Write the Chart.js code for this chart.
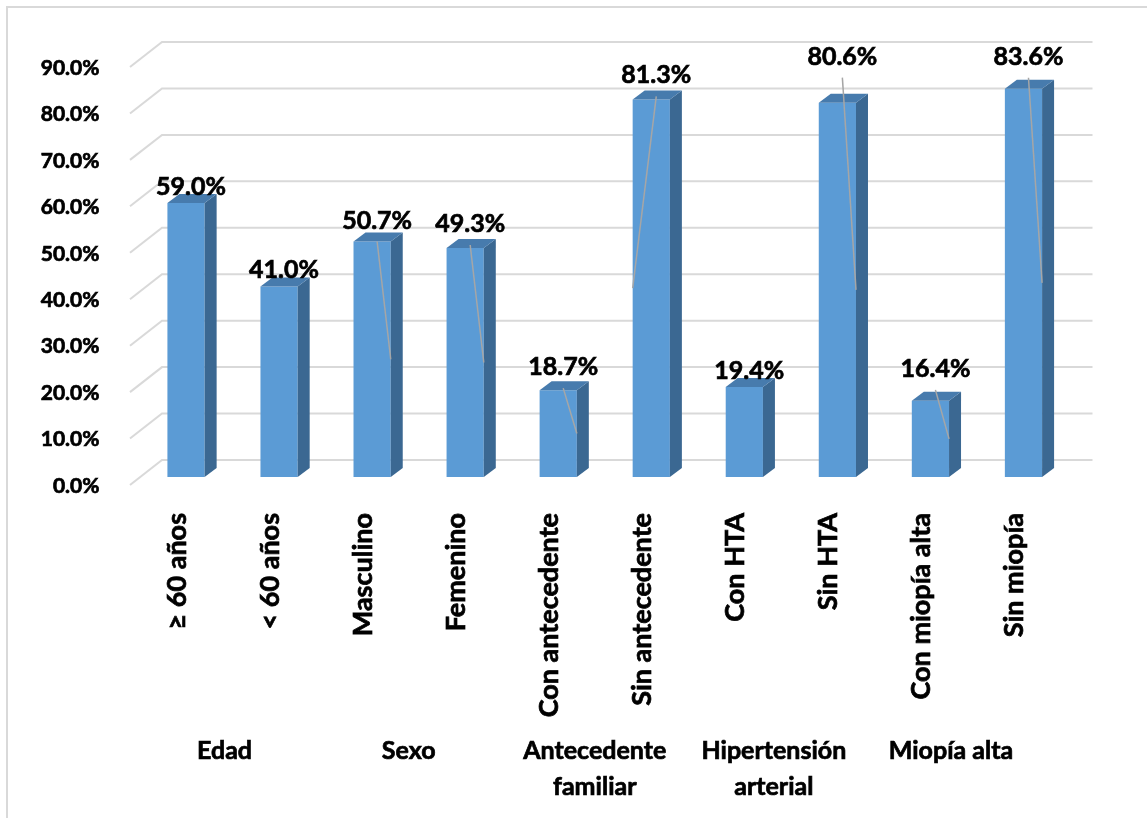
<!DOCTYPE html>
<html>
<head>
<meta charset="utf-8">
<title>Factores</title>
<script src="https://cdn.jsdelivr.net/npm/chart.js@4.4.1/dist/chart.umd.min.js"></script>
<style>
  html, body { margin: 0; padding: 0; background: #fff; }
  #wrap { width: 1147px; height: 818px; position: relative; }
</style>
</head>
<body>
<div id="wrap"><canvas id="dataChart" width="1147" height="818"></canvas></div>
<script>
// Datos del gráfico
const categorias = ['≥ 60 años', '< 60 años', 'Masculino', 'Femenino', 'Con antecedente',
    'Sin antecedente', 'Con HTA', 'Sin HTA', 'Con miopía alta', 'Sin miopía'];
const porcentajes = [59.0, 41.0, 50.7, 49.3, 18.7, 81.3, 19.4, 80.6, 16.4, 83.6];
const grupos = [['Edad'], ['Sexo'], ['Antecedente', 'familiar'], ['Hipertensión', 'arterial'], ['Miopía alta']];
const ticksY = [0, 10, 20, 30, 40, 50, 60, 70, 80, 90];

// Ajustes de estilo (posición de etiquetas, líneas guía)
const separacionEtiqueta = [8, 9, 13, 16, 15, 16, 8, 38, 24, 24];
const lineaGuia = [0, 0, 1, 1, 1, -1, 0, 1, 1, 1];
const desplazGrupo = [-8, -10, -10, -17, -26];

const FUENTE = "Lato, 'Open Sans', sans-serif";
const TRAZO = 0.7;                     // engrosa un poco el texto en negrita
const PROF = { dx: 12, dy: 9 };        // profundidad de la barra
const FONDO = { dx: 22.5, dy: 17 };    // pared del fondo
const FRENTE = { dx: -9.5, dy: 8 };    // borde frontal del suelo

function textoGrueso(ctx, t, x, y) {
    ctx.fillText(t, x, y);
    ctx.strokeText(t, x, y);
}

// Plugin: fondo, borde y rejilla en perspectiva
const rejilla3D = {
    id: 'rejilla3D',
    beforeDraw(chart) {
        const ctx = chart.ctx;
        ctx.save();
        ctx.fillStyle = '#fff';
        ctx.fillRect(0, 0, chart.width, chart.height);
        ctx.strokeStyle = '#d9d9d9';
        ctx.lineWidth = 2;
        ctx.strokeRect(7, 7, 3000, 3000);
        ctx.restore();
    },
    beforeDatasetsDraw(chart) {
        const ctx = chart.ctx;
        const y = chart.scales.y;
        const area = chart.chartArea;
        ctx.save();
        ctx.strokeStyle = '#d9d9d9';
        ctx.lineWidth = 2;
        ticksY.forEach(v => {
            const py = y.getPixelForValue(v);
            ctx.beginPath();
            ctx.moveTo(area.left + FRENTE.dx, py + FRENTE.dy);
            ctx.lineTo(area.left + FONDO.dx, py - FONDO.dy);
            ctx.lineTo(area.right + FONDO.dx, py - FONDO.dy);
            ctx.stroke();
        });
        ctx.restore();
    },
    afterDatasetsDraw(chart) {
        const ctx = chart.ctx;
        const meta = chart.getDatasetMeta(0);
        const yScale = chart.scales.y;
        ctx.save();
        meta.data.forEach((bar, i) => {
            const w = bar.width;
            const l = bar.x - w / 2, r = bar.x + w / 2;
            const top = bar.y, base = bar.base;
            // cara lateral
            ctx.fillStyle = '#3b6892';
            ctx.beginPath();
            ctx.moveTo(r, top);
            ctx.lineTo(r + PROF.dx, top - PROF.dy);
            ctx.lineTo(r + PROF.dx, base - PROF.dy);
            ctx.lineTo(r, base);
            ctx.closePath();
            ctx.fill();
            // cara superior
            ctx.fillStyle = '#477bad';
            ctx.beginPath();
            ctx.moveTo(l, top);
            ctx.lineTo(l + PROF.dx, top - PROF.dy);
            ctx.lineTo(r + PROF.dx, top - PROF.dy);
            ctx.lineTo(r, top);
            ctx.closePath();
            ctx.fill();
        });

        // etiquetas de datos y líneas guía
        ctx.font = 'bold 25px ' + FUENTE;
        ctx.textAlign = 'center';
        ctx.textBaseline = 'alphabetic';
        meta.data.forEach((bar, i) => {
            const cx = bar.x + 5;
            const baseTexto = bar.y - separacionEtiqueta[i];
            if (lineaGuia[i] !== 0) {
                const ex = bar.x + lineaGuia[i] * bar.width / 2;
                const ey = yScale.getPixelForValue(porcentajes[i] / 2);
                ctx.strokeStyle = '#a6a6a6';
                ctx.lineWidth = 1.5;
                ctx.beginPath();
                ctx.moveTo(cx, baseTexto + 13);
                ctx.lineTo(ex, ey);
                ctx.stroke();
            }
            ctx.fillStyle = '#000';
            ctx.strokeStyle = '#000';
            ctx.lineWidth = TRAZO;
            textoGrueso(ctx, porcentajes[i].toFixed(1) + '%', cx, baseTexto);
        });

        // etiquetas de grupo
        const x = chart.scales.x;
        ctx.font = 'bold 25px ' + FUENTE;
        ctx.fillStyle = '#000';
        ctx.strokeStyle = '#000';
        ctx.lineWidth = TRAZO;
        grupos.forEach((lineas, g) => {
            const cx = (x.getPixelForValue(g * 2) + x.getPixelForValue(g * 2 + 1)) / 2 + desplazGrupo[g];
            lineas.forEach((t, k) => textoGrueso(ctx, t, cx, 759 + k * 36));
        });
        ctx.restore();
    }
};

function initChart() {
    const ctx = document.getElementById('dataChart').getContext('2d');
    Chart.defaults.font.family = FUENTE;
    Chart.defaults.color = '#000';

    new Chart(ctx, {
        type: 'bar',
        data: {
            labels: categorias,
            datasets: [{
                data: porcentajes,
                backgroundColor: '#5b9bd5',
                borderWidth: 0,
                barPercentage: 0.4,
                categoryPercentage: 1
            }]
        },
        options: {
            responsive: false,
            animation: false,
            layout: { padding: { top: 59, right: 77, left: 0, bottom: 0 } },
            plugins: {
                legend: { display: false },
                tooltip: { enabled: false }
            },
            scales: {
                x: {
                    grid: { display: false },
                    border: { display: false },
                    ticks: {
                        autoSkip: false,
                        minRotation: 90,
                        maxRotation: 90,
                        padding: 28,
                        labelOffset: -9,
                        textStrokeColor: '#000',
                        textStrokeWidth: TRAZO,
                        font: { size: 27, weight: 'bold' }
                    },
                    afterFit(scale) { scale.height = 341; }
                },
                y: {
                    min: 0,
                    max: 90,
                    grid: { display: false },
                    border: { display: false },
                    ticks: {
                        stepSize: 10,
                        padding: 32,
                        labelOffset: 9,
                        textStrokeColor: '#000',
                        textStrokeWidth: TRAZO,
                        font: { size: 21, weight: 'bold' },
                        callback: v => v.toFixed(1) + '%'
                    },
                    afterFit(scale) { scale.width = 139.5; }
                }
            }
        },
        plugins: [rejilla3D]
    });
}

document.fonts.load('bold 24px Lato').then(initChart, initChart);
</script>
</body>
</html>
